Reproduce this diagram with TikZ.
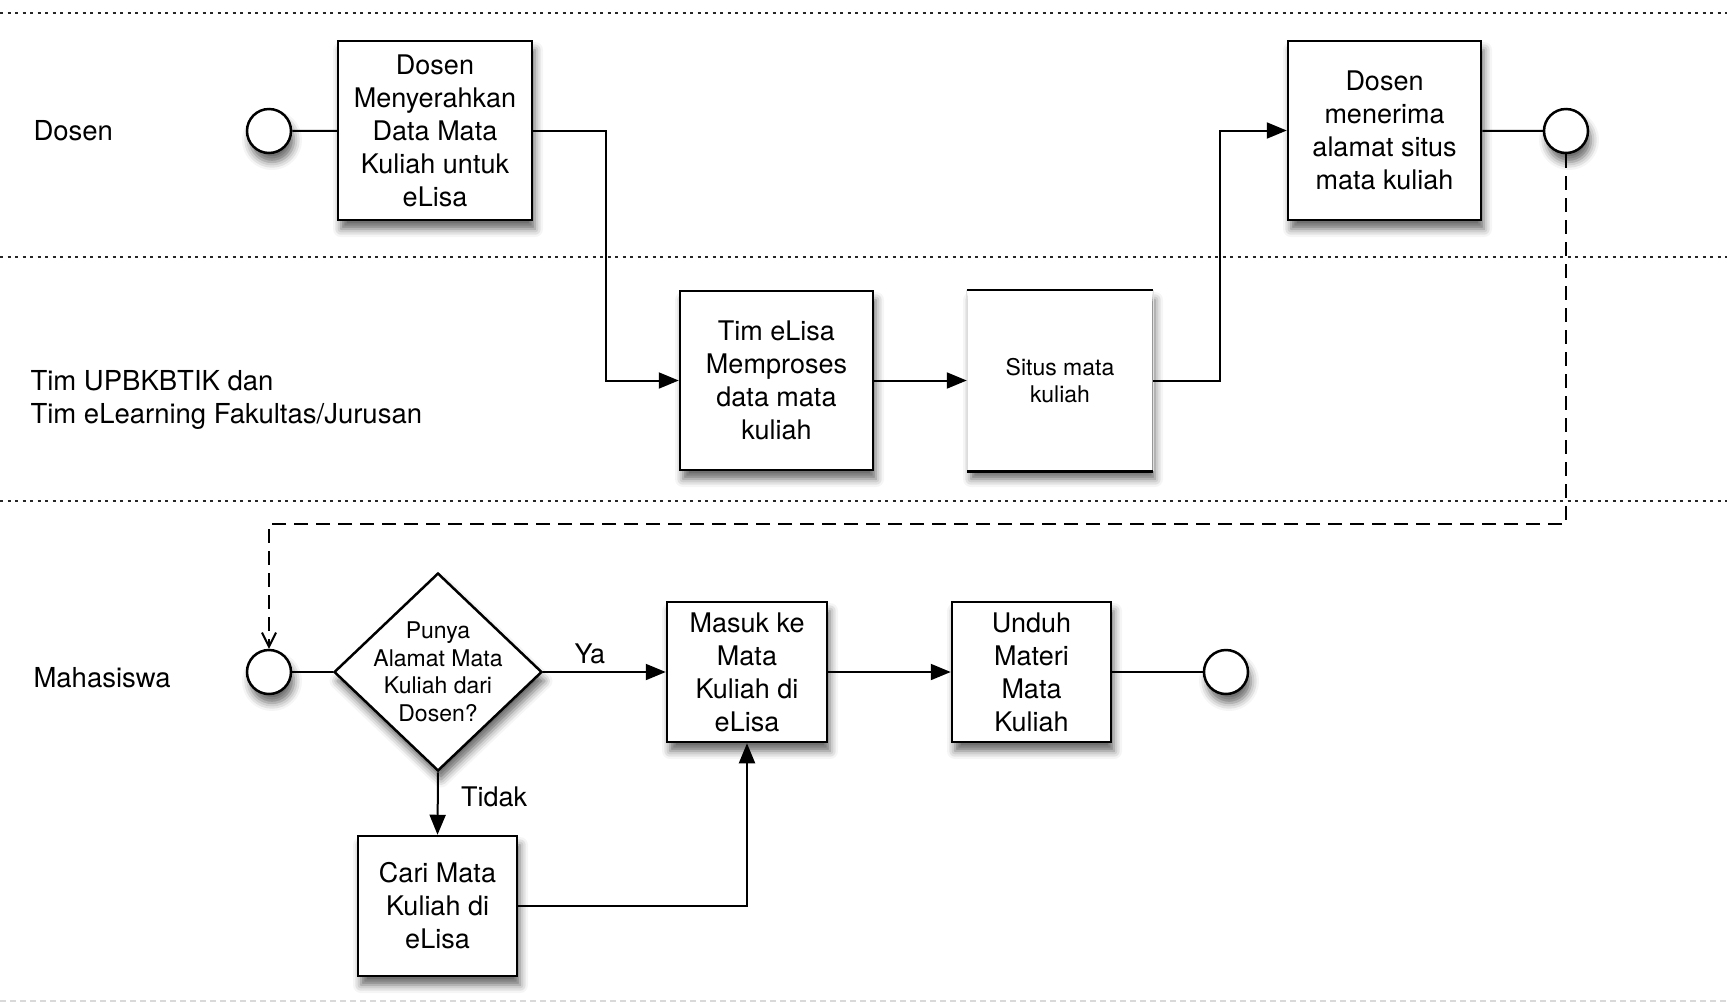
\documentclass[tikz,border=0pt]{standalone}
\usepackage{fontspec}
\setmainfont{TeX Gyre Heros}
\usetikzlibrary{arrows.meta,shapes.geometric,shadows.blur}

\begin{document}
\begin{tikzpicture}[x=1pt, y=-1pt,
    bayang/.style={blur shadow={shadow xshift=3pt, shadow yshift=-9pt, shadow blur radius=8pt, shadow opacity=60}},
    proses/.style={rectangle, draw, line width=2.5pt, fill=white, bayang, align=center,
      inner sep=4pt, font=\fontsize{27}{33}\selectfont},
    event/.style={circle, draw, line width=2.5pt, fill=white, bayang, minimum size=44pt, inner sep=0pt},
    keputusan/.style={diamond, draw, line width=2.5pt, fill=white, bayang, align=center,
      minimum width=208pt, minimum height=198pt, inner sep=-25pt, font=\fontsize{23}{27.5}\selectfont},
    jalur/.style={line width=2pt},
    panah/.style={jalur, -{Triangle[length=20pt,width=16pt]}},
    lajur/.style={line width=2pt, black!85, dash pattern=on 3pt off 4.5pt},
    label lajur/.style={anchor=west, align=left, font=\fontsize{27.5}{33}\selectfont}]

  \useasboundingbox (0,0) rectangle (1727,1005);

  % Swimlane borders
  \draw[lajur] (0,13) -- (1727,13);
  \draw[lajur] (0,257) -- (1727,257);
  \draw[lajur] (0,501) -- (1727,501);
  \draw[line width=1.5pt, black!15, dash pattern=on 6pt off 4pt] (0,1001) -- (1727,1001);

  % Lane labels
  \node[label lajur] (lblDosen) at (30,131) {Dosen};
  \node[label lajur] (lblTim) at (27,400) {Tim UPBKBTIK dan\\Tim eLearning Fakultas/Jurusan};
  \node[label lajur] (lblMhs) at (30,678) {Mahasiswa};

  % Dosen lane
  \node[event] (mulaiDosen) at (269,131) {};
  \node[proses, minimum width=194pt, minimum height=179pt] (serah) at (435,130.5)
    {Dosen\\Menyerahkan\\Data Mata\\Kuliah untuk\\eLisa};
  \node[proses, minimum width=193pt, minimum height=179pt] (terima) at (1384.5,130.5)
    {Dosen\\menerima\\alamat situs\\mata kuliah};
  \node[event] (selesaiDosen) at (1566,131) {};

  % Tim lane
  \node[proses, minimum width=193pt, minimum height=179pt] (olah) at (776.5,380.5)
    {Tim eLisa\\Memproses\\data mata\\kuliah};
  \node[proses, draw=none, minimum width=184pt, minimum height=179pt,
    font=\fontsize{23}{27.5}\selectfont] (situs) at (1060,380.5) {Situs mata\\kuliah};
  \draw[line width=2.5pt] (situs.north west) -- (situs.north east);
  \draw[line width=2.5pt] (situs.south west) -- (situs.south east);
  \draw[line width=1pt, black!12] (situs.north west) -- (situs.south west);
  \draw[line width=1pt, black!12] (situs.north east) -- (situs.south east);

  % Mahasiswa lane
  \node[event] (mulaiMhs) at (269,672) {};
  \node[keputusan] (punya) at (438,672) {Punya\\Alamat Mata\\Kuliah dari\\Dosen?};
  \node[proses, minimum width=160pt, minimum height=140pt] (masuk) at (747,672)
    {Masuk ke\\Mata\\Kuliah di\\eLisa};
  \node[proses, minimum width=159pt, minimum height=140pt] (unduh) at (1031.5,672)
    {Unduh\\Materi\\Mata\\Kuliah};
  \node[event] (selesaiMhs) at (1226,672) {};
  \node[proses, minimum width=159pt, minimum height=140pt] (cari) at (437.5,906)
    {Cari Mata\\Kuliah di\\eLisa};

  % Connectors
  \draw[jalur] (mulaiDosen) -- (serah);
  \draw[panah] (serah.east) -- ++(73,0) |- (olah.west);
  \draw[panah] (olah) -- (situs);
  \draw[panah] (situs.east) -- ++(67,0) |- (terima.west);
  \draw[jalur] (terima) -- (selesaiDosen);
  \draw[line width=2pt, dash pattern=on 14pt off 8pt, -{Straight Barb[length=14pt,width=14pt]}]
    (selesaiDosen.south) -- ++(0,370) -| (mulaiMhs.north);
  \draw[jalur] (mulaiMhs) -- (punya.west);
  \draw[panah] (punya.east) -- node[above, pos=0.38, yshift=4pt, font=\fontsize{27}{33}\selectfont] {Ya} (masuk.west);
  \draw[panah] (punya.south) -- node[right, pos=0.4, xshift=19pt, font=\fontsize{27}{33}\selectfont] {Tidak} (cari.north);
  \draw[panah] (cari.east) -| (masuk.south);
  \draw[panah] (masuk) -- (unduh);
  \draw[jalur] (unduh) -- (selesaiMhs);

\end{tikzpicture}
\end{document}
